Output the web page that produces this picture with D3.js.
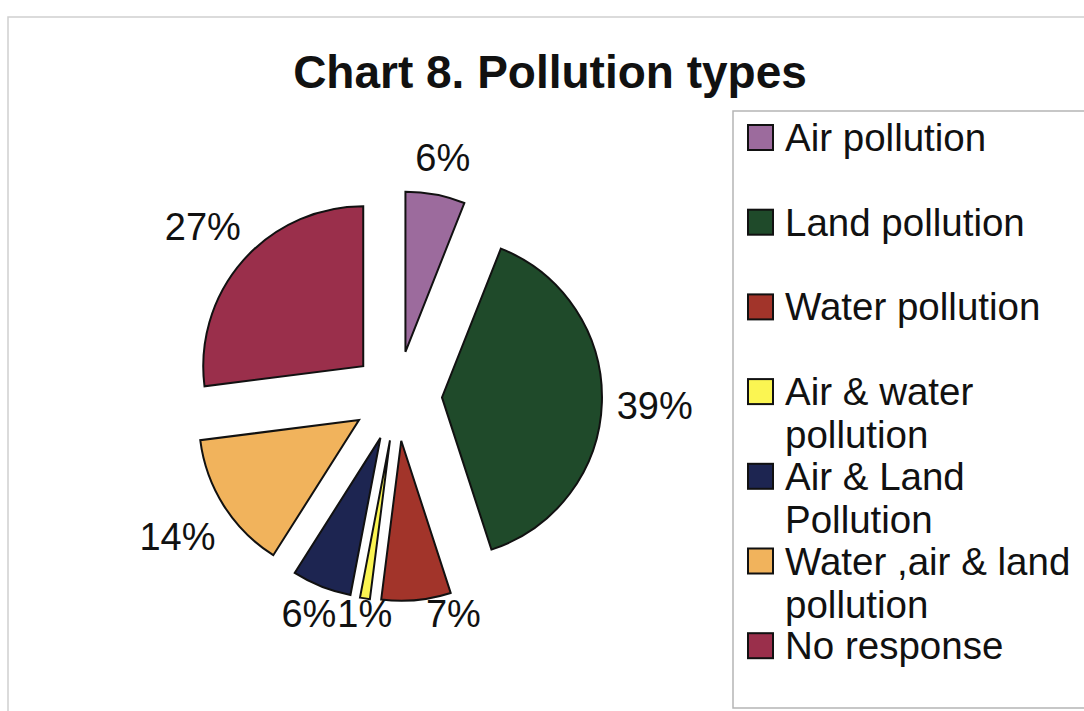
<!DOCTYPE html>
<html>
<head>
<meta charset="utf-8">
<script src="https://cdn.jsdelivr.net/npm/d3@7"></script>
<style>
  html, body { margin: 0; padding: 0; background: #fff; }
  svg { display: block; }
  text { font-family: "Liberation Sans", Arial, sans-serif; fill: #111; }
</style>
</head>
<body>
<svg id="chart" width="1084" height="711"></svg>
<script>
// Survey answers: share of respondents naming each pollution type (%)
const categories = [
  "Air pollution",
  "Land pollution",
  "Water pollution",
  "Air & water pollution",
  "Air & Land Pollution",
  "Water ,air & land pollution",
  "No response"
];
const values = [6, 39, 7, 1, 6, 14, 27];
const colors = ["#9c6b9d", "#1f4a2a", "#a2342a", "#fbf552", "#1d2551", "#f1b35c", "#9a2f4b"];
const title = "Chart 8. Pollution types";

const W = 1084, H = 711;
const svg = d3.select("#chart");

// outer chart area frame
svg.append("rect")
  .attr("x", 8).attr("y", 17)
  .attr("width", W + 20).attr("height", H + 20)
  .attr("fill", "#fff").attr("stroke", "#cfcfcf").attr("stroke-width", 1.5);

// title
svg.append("text")
  .attr("x", 550).attr("y", 88)
  .attr("text-anchor", "middle")
  .style("font-weight", "bold")
  .style("font-size", "46px")
  .text(title);

// exploded pie
const cx = 397, cy = 396, radius = 160, explode = 45;
const pie = d3.pie().sort(null).value(d => d.value);
const arcs = pie(categories.map((c, i) => ({ name: c, value: values[i], color: colors[i] })));
const arc = d3.arc().innerRadius(0).outerRadius(radius);

const g = svg.append("g").attr("transform", `translate(${cx},${cy})`);

function mid(d) { return (d.startAngle + d.endAngle) / 2; }
function offset(d) {
  const a = mid(d);
  return [explode * Math.sin(a), -explode * Math.cos(a)];
}

g.selectAll("path.slice")
  .data(arcs)
  .join("path")
  .attr("class", "slice")
  .attr("d", arc)
  .attr("transform", d => `translate(${offset(d)})`)
  .attr("fill", d => d.data.color)
  .attr("stroke", "#111")
  .attr("stroke-width", 2)
  .attr("stroke-linejoin", "miter");

// is a point (pie-centred coords) inside the exploded slice, with padding?
function hitsSlice(d, px, py, pad) {
  const [ox, oy] = offset(d);
  const dx = px - ox, dy = py - oy;
  if (Math.hypot(dx, dy) > radius + pad) return false;
  let a = Math.atan2(dx, -dy);
  if (a < 0) a += 2 * Math.PI;
  return a >= d.startAngle && a <= d.endAngle;
}

// percentage labels placed just outside each slice's outer end,
// kept above the bottom edge of the plot area and clear of their slice
const labelSize = 38, labelGap = 22, labelMaxY = 216;
const labels = g.selectAll("text.pct")
  .data(arcs)
  .join("text")
  .attr("class", "pct")
  .attr("text-anchor", "middle")
  .attr("dominant-baseline", "central")
  .style("font-size", labelSize + "px")
  .text(d => d.data.value + "%");

const bottomRow = [];
labels.each(function(d) {
  const a = mid(d);
  const s = Math.sin(a), c = -Math.cos(a);
  const w = this.getComputedTextLength();
  const h = labelSize * 0.72;
  const rr = radius + explode + labelGap + Math.abs(s) * w * 0.4 + Math.abs(c) * h / 2;
  let x = rr * s, y = rr * c;
  if (y > labelMaxY) {
    y = labelMaxY;
    x = labelMaxY * s / c;
    const dir = s >= 0 ? 1 : -1;
    const top = y - h / 2 - 2;
    for (let k = 0; k < 100 && hitsSlice(d, x, top, 4); k++) x += dir * 2;
    bottomRow.push({ node: this, x, w });
  }
  d3.select(this).attr("x", x).attr("y", y + 2);
});

// spread the clamped bottom labels so they do not overlap each other
bottomRow.sort((p, q) => p.x - q.x);
for (let pass = 0; pass < 10; pass++) {
  for (let i = 1; i < bottomRow.length; i++) {
    const L = bottomRow[i - 1], R = bottomRow[i];
    const over = (L.x + L.w / 2 + 1) - (R.x - R.w / 2);
    if (over > 0) { L.x -= over * 0.3; R.x += over * 0.7; }
  }
}
bottomRow.forEach(p => d3.select(p.node).attr("x", p.x));

// legend
const lgX = 733, lgY = 111;
svg.append("rect")
  .attr("x", lgX).attr("y", lgY)
  .attr("width", W - lgX + 20).attr("height", 597)
  .attr("fill", "#fff").attr("stroke", "#b5b5b5").attr("stroke-width", 1.5);

const legendSize = 38.5, rowStep = 84.7, lineStep = 43, firstRow = 137, textMax = 300;
const lg = svg.append("g");

categories.forEach((name, i) => {
  const y0 = firstRow + i * rowStep;
  lg.append("rect")
    .attr("x", lgX + 15).attr("y", y0 - 12)
    .attr("width", 25).attr("height", 25)
    .attr("fill", colors[i]).attr("stroke", "#111").attr("stroke-width", 2);

  const t = lg.append("text")
    .attr("x", lgX + 52).attr("y", y0)
    .attr("dominant-baseline", "central")
    .style("font-size", legendSize + "px");

  // word wrap to the legend width
  const words = name.split(" ");
  let line = [], lineNo = 0;
  let ts = t.append("tspan").attr("x", lgX + 52).attr("y", y0);
  words.forEach(wd => {
    line.push(wd);
    ts.text(line.join(" "));
    if (ts.node().getComputedTextLength() > textMax && line.length > 1) {
      line.pop();
      ts.text(line.join(" "));
      line = [wd];
      lineNo++;
      ts = t.append("tspan").attr("x", lgX + 52).attr("y", y0 + lineNo * lineStep).text(wd);
    }
  });
});
</script>
</body>
</html>
